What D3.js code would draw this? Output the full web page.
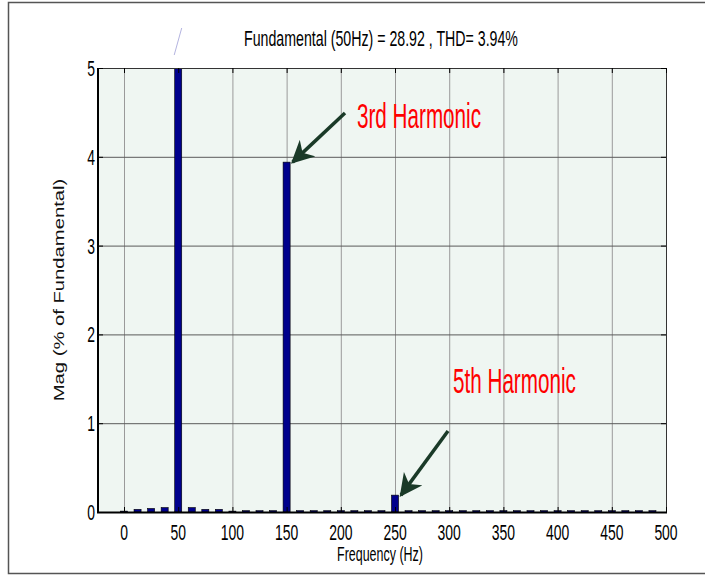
<!DOCTYPE html>
<html>
<head>
<meta charset="utf-8">
<script src="https://cdn.jsdelivr.net/npm/d3@7"></script>
<style>
  body { margin: 0; background: #fff; }
  svg { display: block; }
</style>
</head>
<body>
<svg id="canvas" width="705" height="575"></svg>
<script>
// spectrum bins (Hz) and magnitudes (% of fundamental)
const freqs = [0, 12.5, 25, 37.5, 50, 62.5, 75, 87.5, 100, 112.5, 125, 137.5,
    150, 162.5, 175, 187.5, 200, 212.5, 225, 237.5, 250, 262.5, 275, 287.5,
    300, 312.5, 325, 337.5, 350, 362.5, 375, 387.5, 400, 412.5, 425, 437.5,
    450, 462.5, 475, 487.5]
const mags = [0.01, 0.03, 0.04, 0.05, 100, 0.05, 0.03, 0.03, 0.01, 0.015, 0.015, 0.015,
    3.94, 0.015, 0.015, 0.015, 0.015, 0.015, 0.015, 0.015, 0.19, 0.015, 0.015, 0.015,
    0.015, 0.015, 0.015, 0.015, 0.015, 0.015, 0.015, 0.015, 0.015, 0.015, 0.015, 0.015,
    0.015, 0.015, 0.015, 0.015]

const xTicks = [0, 50, 100, 150, 200, 250, 300, 350, 400, 450, 500]
const yTicks = [0, 1, 2, 3, 4, 5]

const titulo = "Fundamental (50Hz) = 28.92 , THD= 3.94%"
const xLabel = "Frequency (Hz)"
const yLabel = "Mag (% of Fundamental)"
// annotations: [text, harmonic freq, magnitude]
const notas = [["3rd Harmonic", 150, 3.94], ["5th Harmonic", 250, 0.19]]

const svg = d3.select("#canvas")
const m = { left: 98, right: 666, top: 68, bottom: 512 }
const stretch = 1.35  // figure was stretched vertically
const narrow = 0.82   // no narrow font installed, squeeze regular one

const x = d3.scaleLinear().domain([-24, 500]).range([m.left, m.right])
const y = d3.scaleLinear().domain([0, 5]).range([m.bottom, m.top])

// outer frame (left, top, bottom visible)
svg.append("path")
    .attr("d", "M705,2.5 H8.5 V573.5 H705")
    .attr("fill", "none").attr("stroke", "#555").attr("stroke-width", 1.5)

// plot background
svg.append("rect")
    .attr("x", m.left).attr("y", m.top)
    .attr("width", m.right - m.left).attr("height", m.bottom - m.top)
    .attr("fill", "#eff6f2")

svg.append("clipPath").attr("id", "clip")
    .append("rect")
    .attr("x", m.left).attr("y", m.top)
    .attr("width", m.right - m.left).attr("height", m.bottom - m.top)

// grid
svg.append("g").selectAll("line").data(xTicks.slice(0, -1)).join("line")
    .attr("x1", d => x(d) + 0.5).attr("x2", d => x(d) + 0.5)
    .attr("y1", m.top).attr("y2", m.bottom)
    .attr("stroke", "#9a9a9a").attr("stroke-width", 1)
svg.append("g").selectAll("line").data(yTicks.slice(1, -1)).join("line")
    .attr("x1", m.left).attr("x2", m.right)
    .attr("y1", d => y(d) + 0.5).attr("y2", d => y(d) + 0.5)
    .attr("stroke", "#5a5a5a").attr("stroke-width", 1)

// bars
const bw = x(6.5) - x(0)
svg.append("g").attr("clip-path", "url(#clip)")
    .selectAll("rect").data(freqs).join("rect")
    .attr("x", (d) => x(d) - bw / 2)
    .attr("y", (d, i) => y(Math.min(mags[i], 6)))
    .attr("width", bw)
    .attr("height", (d, i) => m.bottom - y(Math.min(mags[i], 6)))
    .attr("fill", "#00008c")
    .attr("stroke", "#000")
    .attr("stroke-width", 0.6)

// faint artifact above the fundamental bar
svg.append("line")
    .attr("x1", x(50) + 3.5).attr("y1", 28)
    .attr("x2", x(50) - 4).attr("y2", 55)
    .attr("stroke", "#b4b4e0").attr("stroke-width", 1)

// axis box
svg.append("rect")
    .attr("x", m.left + 0.5).attr("y", m.top + 0.5)
    .attr("width", m.right - m.left).attr("height", m.bottom - m.top)
    .attr("fill", "none").attr("stroke", "#333").attr("stroke-width", 1)
svg.append("path")
    .attr("d", `M${m.left},${m.top} V${m.bottom + 0.5} H${m.right + 1}`)
    .attr("fill", "none").attr("stroke", "#000").attr("stroke-width", 2)

// tick marks (inward, top & bottom / left & right)
const tk = svg.append("g").attr("stroke", "#000").attr("stroke-width", 1)
xTicks.forEach(t => {
    tk.append("line").attr("x1", x(t) + 0.5).attr("x2", x(t) + 0.5)
        .attr("y1", m.bottom).attr("y2", m.bottom - 5)
    tk.append("line").attr("x1", x(t) + 0.5).attr("x2", x(t) + 0.5)
        .attr("y1", m.top).attr("y2", m.top + 5)
})
yTicks.forEach(t => {
    tk.append("line").attr("x1", m.left).attr("x2", m.left + 5)
        .attr("y1", y(t) + 0.5).attr("y2", y(t) + 0.5)
    tk.append("line").attr("x1", m.right).attr("x2", m.right - 5)
        .attr("y1", y(t) + 0.5).attr("y2", y(t) + 0.5)
})

// stretched narrow text helper
function texto(px, py, str, size, anchor, color, sy) {
    svg.append("text")
        .attr("transform", `translate(${px},${py}) scale(${narrow},${sy || stretch})`)
        .attr("text-anchor", anchor)
        .attr("font-family", "'Liberation Sans', Arial, sans-serif")
        .attr("font-size", size)
        .attr("fill", color || "#000")
        .text(str)
}

xTicks.forEach(t => texto(x(t), 540, t, 17, "middle"))
yTicks.forEach(t => texto(95, y(t) + 8, t, 17, "end"))

texto(381, 46, titulo, 17.3, "middle", "#000", 1.28)
texto(380, 561, xLabel, 15.2, "middle")

// y label: regular sans, stretched along its length
svg.append("text")
    .attr("transform", `translate(64,290) rotate(-90) scale(${stretch},1)`)
    .attr("text-anchor", "middle")
    .attr("font-family", "'Liberation Sans', Arial, sans-serif")
    .attr("font-size", 15)
    .attr("fill", "#111")
    .text(yLabel)

// arrows + red labels
const defs = svg.append("defs")
defs.append("marker").attr("id", "head")
    .attr("viewBox", "0 0 10 10").attr("refX", 9).attr("refY", 5)
    .attr("markerWidth", 6.5).attr("markerHeight", 6.5)
    .attr("markerUnits", "strokeWidth")
    .attr("orient", "auto")
    .append("path").attr("d", "M0,0 L10,5 L0,10 L3,5 Z").attr("fill", "#1a3a28")

const offs = [
    { sx: 345, sy: 113, tx: 357, ty: 128 },
    { sx: 448, sy: 431, tx: 453, ty: 393 }
]
notas.forEach((n, i) => {
    const o = offs[i]
    const tipX = x(n[1]) + 6, tipY = y(n[2]) - 0
    svg.append("line")
        .attr("x1", o.sx).attr("y1", o.sy)
        .attr("x2", tipX).attr("y2", tipY)
        .attr("stroke", "#1a3a28").attr("stroke-width", 3.5)
        .attr("marker-end", "url(#head)")
    texto(o.tx, o.ty, n[0], 25.2, "start", "#ff0000", 1.4)
})
</script>
</body>
</html>
